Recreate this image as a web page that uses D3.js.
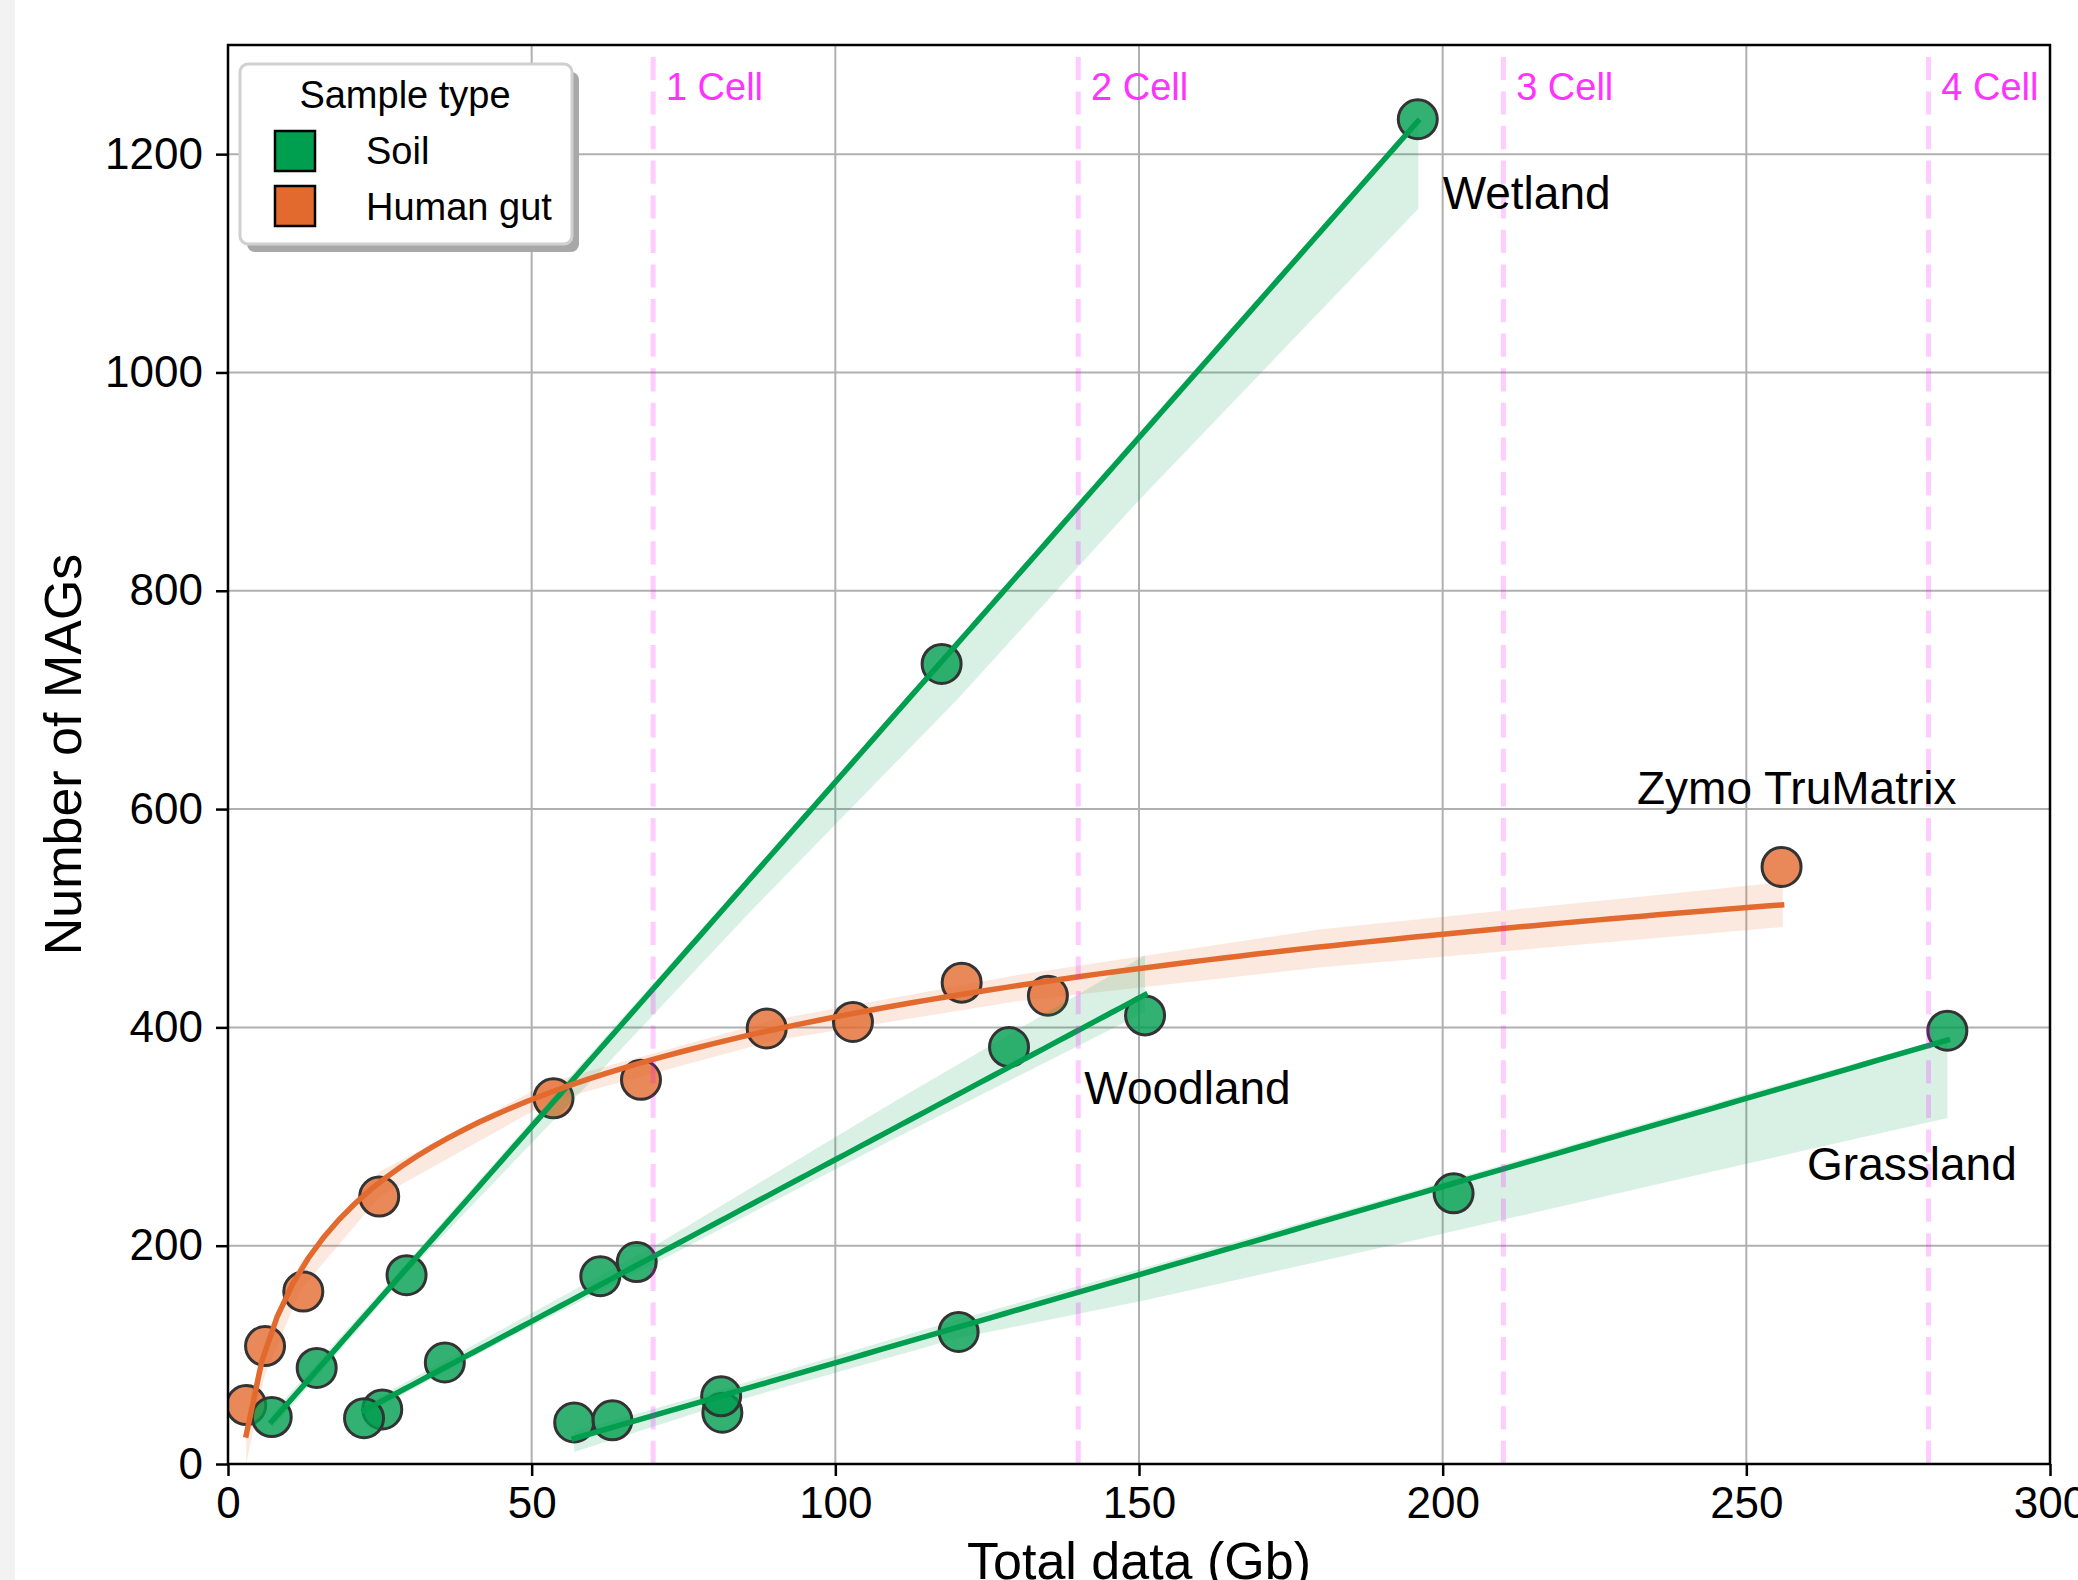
<!DOCTYPE html>
<html><head><meta charset="utf-8">
<script src="https://cdn.jsdelivr.net/npm/d3@7"></script>
<style>
body{margin:0;background:#fff}
svg{display:block}
text{font-family:"Liberation Sans",Arial,Helvetica,sans-serif}
</style>
</head><body>
<svg id="c" width="2078" height="1580"></svg>
<script>
// ---------- data ----------
const xTicks = [0, 50, 100, 150, 200, 250, 300];
const yTicks = [0, 200, 400, 600, 800, 1000, 1200];
const cellX = [70, 140, 210, 280];
const cellLabels = ["1 Cell", "2 Cell", "3 Cell", "4 Cell"];

// Human gut (Zymo TruMatrix) - log fit
const gutX = [3.0, 6.1, 12.4, 24.9, 53.6, 68.0, 88.7, 102.9, 120.8, 135.0, 255.8];
const gutY = [54, 108, 158, 245, 335, 352, 399, 405, 441, 429, 547];
const gutCiX  = [3, 6, 12, 25, 53, 90, 130, 180, 256];
const gutCiLo = [0, 80, 160, 245, 332, 388, 424, 455, 492];
const gutCiHi = [35, 108, 185, 268, 350, 407, 448, 490, 533];

// Soil groups - linear fits
const wetlandX = [7.2, 14.6, 29.4, 117.5, 195.9];
const wetlandY = [43, 88, 173, 733, 1232];
const wetlandCiX  = [7.2, 30, 60, 86, 120, 150, 196];
const wetlandCiLo = [32, 178, 352, 506, 700, 883, 1150];
const wetlandCiHi = [46, 188, 378, 540, 755, 945, 1234];

const woodlandX = [25.4, 22.4, 35.7, 61.3, 67.3, 128.6, 151.0];
const woodlandY = [50, 42, 93, 172, 185, 382, 411];
const woodlandCiX  = [22.4, 45, 70, 110, 151];
const woodlandCiLo = [45, 112, 183, 299, 414];
const woodlandCiHi = [54, 123, 199, 333, 466];

const grasslandX = [57.0, 63.3, 81.4, 81.2, 120.3, 201.8, 283.1];
const grasslandY = [38, 40, 47, 62, 121, 248, 397];
const grasslandCiX  = [57, 80, 120, 151, 193, 250, 283.1];
const grasslandCiLo = [11, 52, 115, 150, 202, 275, 317];
const grasslandCiHi = [30, 66, 132, 180, 247, 339, 391];

const annText = ["Wetland", "Woodland", "Grassland", "Zymo TruMatrix"];
const annX = [200, 141, 260, 232];
const annY = [1150, 330, 260, 605];

const legendTitle = "Sample type";
const legendLabels = ["Soil", "Human gut"];

// ---------- style ----------
const GREEN = "#009E4F", ORANGE = "#E36A2E";
const svg = d3.select("#c");
const L = 228, R = 2050, T = 45, B = 1464;
const x = d3.scaleLinear().domain([0, 300]).range([L, R]);
const y = d3.scaleLinear().domain([0, 1300]).range([B, T]);

svg.append("rect").attr("width", 2078).attr("height", 1580).attr("fill", "#fff");
svg.append("rect").attr("width", 15).attr("height", 1580).attr("fill", "#f2f2f2");

svg.append("defs").append("clipPath").attr("id", "clip")
  .append("rect").attr("x", L).attr("y", T).attr("width", R - L).attr("height", B - T);

// grid
const grid = svg.append("g");
grid.selectAll(".gx").data(xTicks).join("line")
  .attr("x1", d => x(d)).attr("x2", d => x(d)).attr("y1", T).attr("y2", B)
  .attr("stroke", "#b0b0b0").attr("stroke-width", 2);
grid.selectAll(".gy").data(yTicks).join("line")
  .attr("y1", d => y(d)).attr("y2", d => y(d)).attr("x1", L).attr("x2", R)
  .attr("stroke", "#b0b0b0").attr("stroke-width", 2);

const plot = svg.append("g").attr("clip-path", "url(#clip)");

function fit(xs, ys, tf) {
  const tx = xs.map(tf);
  const mx = d3.mean(tx), my = d3.mean(ys);
  let sxy = 0, sxx = 0;
  tx.forEach((v, i) => { sxy += (v - mx) * (ys[i] - my); sxx += (v - mx) * (v - mx); });
  const b = sxy / sxx, a = my - b * mx;
  return v => a + b * tf(v);
}

const area = d3.area().x(d => x(d[0])).y0(d => y(d[1])).y1(d => y(d[2]));
function band(cx, lo, hi, color) {
  plot.append("path").datum(cx.map((v, i) => [v, lo[i], hi[i]]))
    .attr("d", area).attr("fill", color).attr("fill-opacity", 0.15);
}
function scatter(xs, ys, color) {
  plot.append("g").selectAll("circle").data(xs).join("circle")
    .attr("cx", d => x(d)).attr("cy", (d, i) => y(ys[i])).attr("r", 19.5)
    .attr("fill", color).attr("fill-opacity", 0.8)
    .attr("stroke", "#333333").attr("stroke-width", 3);
}
const lineGen = d3.line().x(d => x(d[0])).y(d => y(d[1]));
function fitLine(xs, ys, color, tf) {
  const f = fit(xs, ys, tf);
  const [mn, mx] = d3.extent(xs);
  const n = 100;
  const pts = d3.range(n).map(i => { const v = mn + (mx - mn) * i / (n - 1); return [v, f(v)]; });
  plot.append("path").datum(pts).attr("d", lineGen)
    .attr("fill", "none").attr("stroke", color).attr("stroke-width", 5.5)
    .attr("stroke-linecap", "square");
}

// bands + scatter (lower layer)
band(gutCiX, gutCiLo, gutCiHi, ORANGE);
scatter(gutX, gutY, ORANGE);
band(wetlandCiX, wetlandCiLo, wetlandCiHi, GREEN);
scatter(wetlandX, wetlandY, GREEN);
band(woodlandCiX, woodlandCiLo, woodlandCiHi, GREEN);
scatter(woodlandX, woodlandY, GREEN);
band(grasslandCiX, grasslandCiLo, grasslandCiHi, GREEN);
scatter(grasslandX, grasslandY, GREEN);

// fit lines (upper layer)
const id = v => v;
fitLine(wetlandX, wetlandY, GREEN, id);
fitLine(woodlandX, woodlandY, GREEN, id);
fitLine(grasslandX, grasslandY, GREEN, id);
fitLine(gutX, gutY, ORANGE, Math.log);

// cell lines
plot.append("g").selectAll("line").data(cellX).join("line")
  .attr("x1", d => x(d)).attr("x2", d => x(d))
  .attr("y1", y(0)).attr("y2", y(1289))
  .attr("stroke", "#ff00ff").attr("stroke-opacity", 0.2).attr("stroke-width", 5)
  .attr("stroke-dasharray", "23.2 11.4");
svg.append("g").selectAll("text").data(cellX).join("text")
  .attr("x", d => x(d + 2.1)).attr("y", y(1250))
  .attr("fill", "#ff33ff").attr("font-size", 38)
  .text((d, i) => cellLabels[i]);

// annotations
svg.append("g").selectAll("text").data(annText).join("text")
  .attr("x", (d, i) => x(annX[i])).attr("y", (d, i) => y(annY[i]))
  .attr("font-size", 46).attr("fill", "#000").text(d => d);

// axes
const ax = svg.append("g").attr("transform", `translate(0,${B})`)
  .call(d3.axisBottom(x).tickValues(xTicks).tickFormat(d3.format("d")).tickSize(12).tickPadding(11));
const ay = svg.append("g").attr("transform", `translate(${L},0)`)
  .call(d3.axisLeft(y).tickValues(yTicks).tickFormat(d3.format("d")).tickSize(12).tickPadding(13));
[ax, ay].forEach(g => {
  g.select(".domain").remove();
  g.selectAll(".tick line").attr("stroke", "#000").attr("stroke-width", 2.5);
  g.selectAll(".tick text").attr("font-size", 44).attr("fill", "#000")
    .attr("font-family", '"Liberation Sans",Arial,sans-serif');
});
svg.append("rect").attr("x", L).attr("y", T).attr("width", R - L).attr("height", B - T)
  .attr("fill", "none").attr("stroke", "#000").attr("stroke-width", 2.5);

svg.append("text").attr("x", (L + R) / 2).attr("y", 1579).attr("text-anchor", "middle")
  .attr("font-size", 52).text("Total data (Gb)");
svg.append("text").attr("transform", `translate(81,${(T + B) / 2}) rotate(-90)`)
  .attr("text-anchor", "middle").attr("font-size", 52).text("Number of MAGs");

// legend
const lg = svg.append("g");
lg.append("rect").attr("x", 247).attr("y", 72).attr("width", 332).attr("height", 180)
  .attr("rx", 8).attr("fill", "#a8a8a8");
lg.append("rect").attr("x", 240).attr("y", 64).attr("width", 332).attr("height", 180)
  .attr("rx", 8).attr("fill", "#fff").attr("stroke", "#d0d0d0").attr("stroke-width", 3);
lg.append("text").attr("x", 405).attr("y", 108).attr("text-anchor", "middle")
  .attr("font-size", 38).text(legendTitle);
const legColors = [GREEN, ORANGE];
legendLabels.forEach((lab, i) => {
  const yy = 131 + i * 55;
  lg.append("rect").attr("x", 275).attr("y", yy).attr("width", 40).attr("height", 40)
    .attr("fill", legColors[i]).attr("stroke", "#000").attr("stroke-width", 2.5);
  lg.append("text").attr("x", 366).attr("y", 164 + i * 56).attr("font-size", 38).text(lab);
});
</script>
</body></html>
